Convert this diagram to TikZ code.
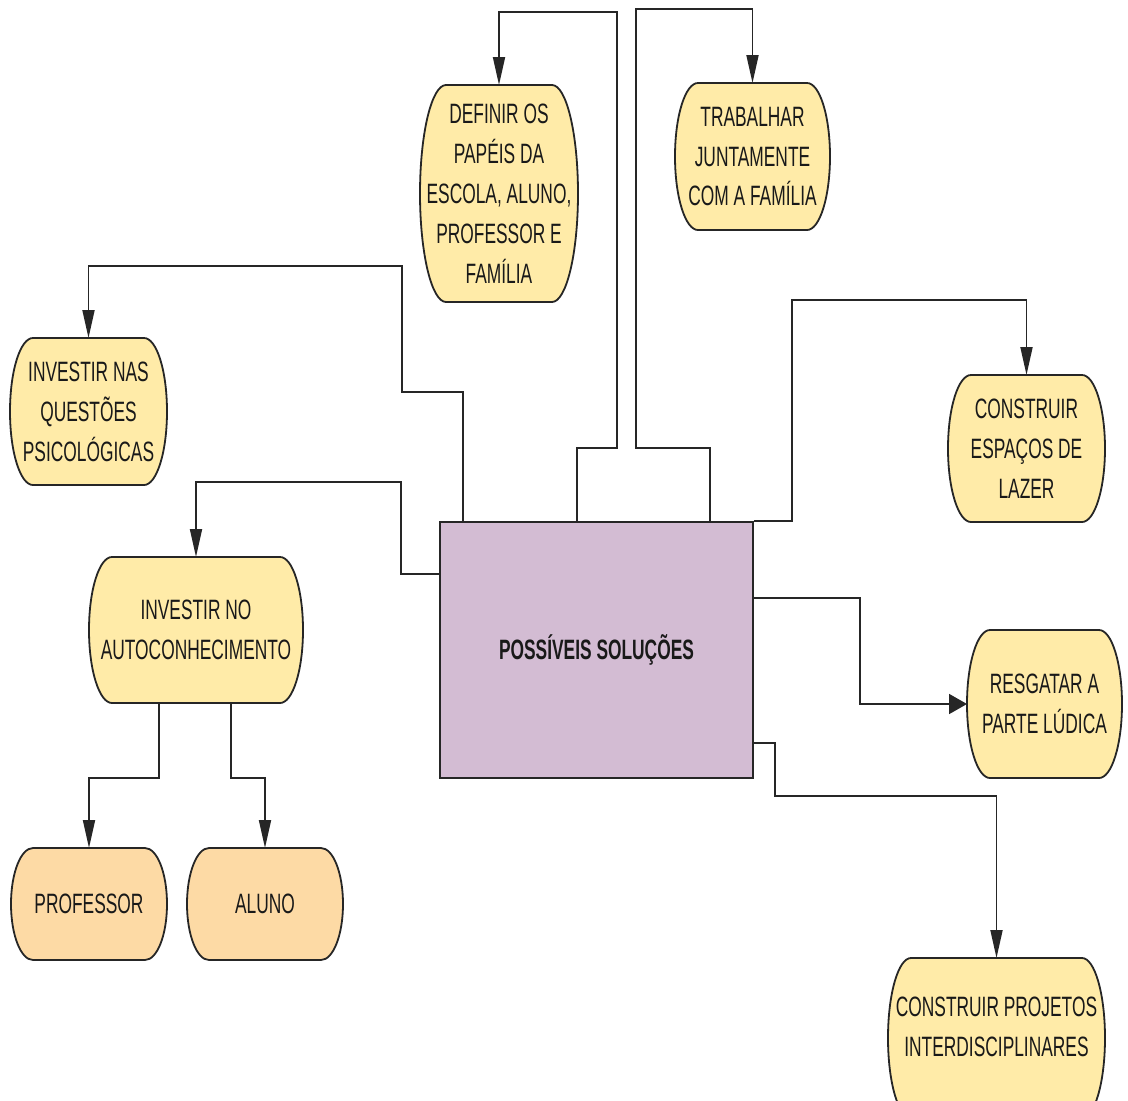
\documentclass[tikz,border=0pt]{standalone}
\usepackage{fontspec}
\setmainfont{Liberation Sans}[FakeStretch=0.62]
\usetikzlibrary{arrows.meta}
\definecolor{ideafill}{HTML}{FFEBA8}
\definecolor{rolefill}{HTML}{FDDAA5}
\definecolor{hubfill}{HTML}{D3BCD3}
\tikzset{
  border/.style={line width=1.8pt, draw=black!85},
  con/.style={line width=1.8pt, draw=black!85},
  tip/.style={-{Triangle[length=28pt,width=12pt]}},
  sidetip/.style={-{Triangle[length=18pt,width=20pt]}},
  lbl/.style={align=center, font=\fontsize{28}{40}\selectfont, text=black!90, inner sep=0pt},
}
% [text options]{name}{x}{y}{width}{height}{corner x-radius}{fill}{text}
\newcommand\capsule[9][]{%
  \node[minimum width=#5pt, minimum height=#6pt, inner sep=0pt, outer sep=0pt] (#2) at (#3,#4) {};
  \filldraw[border, fill=#8] ([xshift=#7pt]#2.north west) -- ([xshift=-#7pt]#2.north east)
    arc[start angle=90, end angle=-90, x radius=#7pt, y radius=#6pt/2]
    -- ([xshift=#7pt]#2.south west)
    arc[start angle=270, end angle=90, x radius=#7pt, y radius=#6pt/2] -- cycle;
  \node[lbl,#1] at (#2) {#9};
}
\begin{document}
\begin{tikzpicture}[x=1pt, y=-1pt]
\fill[white] (0,0) rectangle (1128,1101);
\useasboundingbox (0,0) rectangle (1128,1101);

% central hub
\node[border, fill=hubfill, minimum width=313pt, minimum height=256pt, inner sep=0pt,
      font=\fontsize{28}{40}\selectfont\bfseries, text=black!90] (c) at (596.5,650) {POSSÍVEIS SOLUÇÕES};

% solution nodes
\capsule{d}{499}{193.5}{158}{217}{26}{ideafill}{DEFINIR OS\\PAPÉIS DA\\ESCOLA, ALUNO,\\PROFESSOR E\\FAMÍLIA}
\capsule{t}{752.5}{156.5}{155}{147}{23}{ideafill}{TRABALHAR\\JUNTAMENTE\\COM A FAMÍLIA}
\capsule{q}{88.5}{411.5}{157}{147}{23}{ideafill}{INVESTIR NAS\\QUESTÕES\\PSICOLÓGICAS}
\capsule{a}{196}{630}{214}{146}{23}{ideafill}{INVESTIR NO\\AUTOCONHECIMENTO}
\capsule{l}{1026.5}{448.5}{157}{147}{23}{ideafill}{CONSTRUIR\\ESPAÇOS DE\\LAZER}
\capsule{r}{1044.5}{704}{155}{148}{23}{ideafill}{RESGATAR A\\PARTE LÚDICA}
\capsule[yshift=11pt]{p}{996.5}{1038}{217}{160}{23}{ideafill}{CONSTRUIR PROJETOS\\INTERDISCIPLINARES}
\capsule{pr}{89}{904}{156}{112}{22}{rolefill}{PROFESSOR}
\capsule{al}{265}{904}{156}{112}{22}{rolefill}{ALUNO}

% connectors from the hub
\draw[con, tip] (c.north -| 463,0) -- (463,392) -- (402,392) -- (402,266) -- (q.north |- 0,266) -- (q.north);
\draw[con, tip] (c.west |- 0,574) -- (401,574) -- (401,482) -- (a.north |- 0,482) -- (a.north);
\draw[con, tip] (c.north -| 577,0) -- (577,448) -- (617,448) -- (617,12) -- (d.north |- 0,12) -- (d.north);
\draw[con, tip] (c.north -| 710,0) -- (710,448) -- (636,448) -- (636,9) -- (t.north |- 0,9) -- (t.north);
\draw[con, tip] (c.north east) -- (c.north east -| 792,0) -- (792,300) -- (l.north |- 0,300) -- (l.north);
\draw[con, sidetip] (c.east |- 0,598) -- (860,598) -- (860,704) -- (r.west);
\draw[con, tip] (c.east |- 0,743) -- (775,743) -- (775,796) -- (p.north |- 0,796) -- (p.north);

% connectors to the two roles
\draw[con, tip] (a.south -| 159,0) -- (159,778) -- (pr.north |- 0,778) -- (pr.north);
\draw[con, tip] (a.south -| 231,0) -- (231,778) -- (al.north |- 0,778) -- (al.north);
\end{tikzpicture}
\end{document}
